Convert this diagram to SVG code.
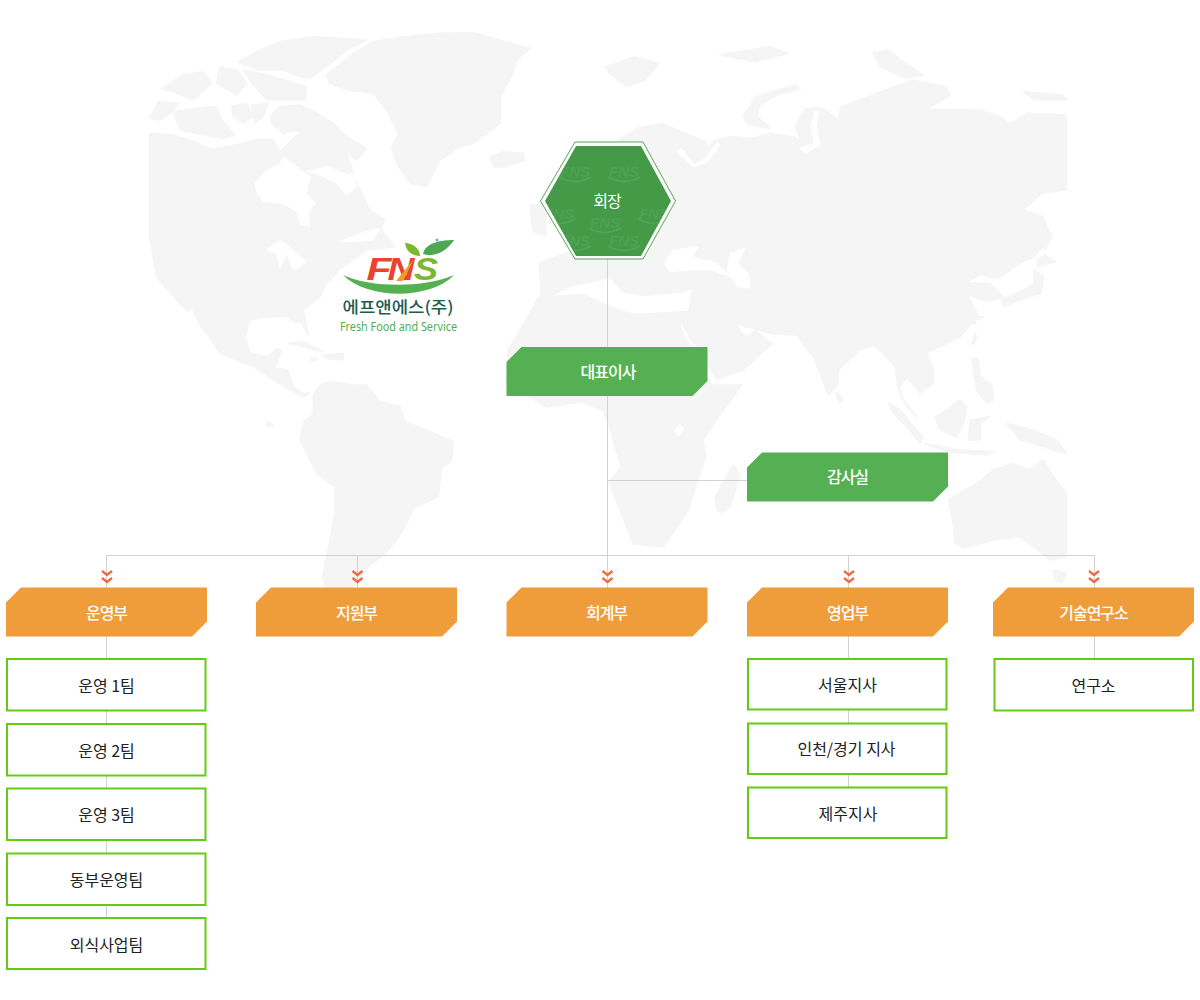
<svg xmlns="http://www.w3.org/2000/svg" width="1200" height="1000" viewBox="0 0 1200 1000">
<style>
text{font-family:"Noto Sans CJK KR","Noto Sans",sans-serif;text-anchor:middle}
.land{fill:#f5f5f5;stroke:#f5f5f5;stroke-width:5;stroke-linejoin:round}
.sea{fill:#fff;stroke:#fff;stroke-width:3;stroke-linejoin:round}
.line{stroke:#d2d2d2;stroke-width:1;fill:none}
.green{fill:#55b054}
.orange{fill:#ef9d3b}
.team{fill:#fff;stroke:#63cb15;stroke-width:2}
.hd{fill:#fff;font-size:16px;font-weight:500;letter-spacing:-1px}
.tx{fill:#222;font-size:16px}
.wm{fill:#4fa153;font-family:"Liberation Sans",sans-serif;font-size:15px;font-weight:700;font-style:italic}
.wa{fill:none;stroke:#53a457;stroke-width:2}
.logo{font-family:"Liberation Sans",sans-serif;font-size:31px;font-weight:700;font-style:italic}
</style>
<defs>
<path id="chev" d="M-5,0.500 L0,4.500 L5,0.500 M-5,7.500 L0,11.500 L5,7.500" fill="none" stroke="#ec6b45" stroke-width="2.400"/>
<path id="tag" d="M15,0 H201 V34 L186,49 H0 V15Z"/>
<clipPath id="mapclip"><rect x="149" y="0" width="918" height="600"/></clipPath>
<clipPath id="hexclip"><polygon points="545,201 576,146 641,146 671,201 641,256 576,256"/></clipPath>
</defs>
<rect width="1200" height="1000" fill="#fff"/>
<g id="map" clip-path="url(#mapclip)">
<g transform="translate(140,20) scale(.33333)">
<path class="land" d="M28,340 L100,345 170,368 215,388 300,372 350,358 400,358 420,395 470,345 510,335 540,378 575,385 600,430 640,475 650,490 690,570 735,600 720,625 765,680 680,690 600,745 560,790 540,830 490,870 505,945 480,900 470,910 440,890 380,890 330,900 315,950 330,1000 385,1010 410,985 425,990 405,1045 445,1050 460,1100 490,1120 510,1120 490,1130 440,1105 380,1065 340,1040 240,1000 200,940 140,870 110,840 50,770 28,650Z"/>
<path class="sea" d="M345,490 L370,460 420,430 430,410 470,440 510,470 500,520 525,550 505,580 510,620 480,610 470,575 430,550 370,545 350,515Z"/>
<path class="sea" d="M500,455 L560,440 640,470 650,500 620,525 590,490 540,465Z"/>
<path class="sea" d="M380,690 L420,660 470,700 500,725 460,750 440,700 420,745 410,700Z"/>
<path class="sea" d="M600,665 L660,640 720,625 700,660 640,665Z"/>
<path class="land" d="M390,290 L420,260 480,255 530,280 580,310 620,350 680,385 650,420 620,400 640,460 580,430 540,420 500,420 470,400 490,350 470,330 430,340 395,310Z"/>
<path class="land" d="M100,275 L170,265 230,260 245,300 285,345 250,355 190,345 120,330Z"/>
<path class="land" d="M30,295 L55,245 120,250 90,280 60,300Z"/>
<path class="land" d="M275,260 L320,250 340,290 310,310 280,290Z"/>
<path class="land" d="M335,255 L385,250 370,290 345,310Z"/>
<path class="land" d="M65,205 L130,165 190,155 215,190 160,240 100,215Z"/>
<path class="land" d="M240,140 L290,150 320,190 290,225 230,190Z"/>
<path class="land" d="M295,125 L350,95 420,65 520,50 680,60 620,90 560,140 510,175 480,170 430,150 350,150Z"/>
<path class="land" d="M310,150 L400,170 500,200 495,240 380,240 340,195Z"/>
<path class="land" d="M560,165 L640,100 700,65 800,50 900,40 1000,38 1080,60 1170,85 1130,120 1115,170 1080,230 1080,310 1000,370 960,380 900,420 860,500 810,490 770,430 755,380 775,340 740,270 700,220 620,210 570,190Z"/>
<path class="land" d="M1050,410 L1090,395 1150,400 1155,420 1100,440 1060,440Z"/>
</g>
<g transform="translate(140,300) scale(.33333)">
<path class="sea" d="M145,35 L155,30 195,125 170,90Z"/>
<path class="land" d="M520,285 L540,255 570,245 640,255 680,255 720,305 780,320 795,365 860,390 940,425 935,480 905,505 895,590 820,625 800,670 770,720 730,765 690,795 640,860 600,880 560,870 548,830 570,720 585,640 585,560 530,520 480,420 490,370 520,340Z"/>
<path class="land" d="M445,130 L490,125 550,155 510,145Z"/>
<path class="land" d="M550,165 L610,160 610,180 560,175Z"/>
<path class="land" d="M510,175 L530,175 530,182 512,182Z"/>
<path class="land" d="M380,365 L395,370 400,380 380,378Z"/>
</g>
<g transform="translate(520,30) scale(.357,.33333)">
<path class="land" d="M270,335 L330,295 400,280 440,300 520,335 528,358 505,385 545,330 590,320 650,325 700,310 770,322 790,335 770,290 800,235 850,235 890,270 900,230 1000,190 1100,150 1190,170 1205,195 1140,238 1290,240 1350,262 1370,282 1420,250 1530,255 1530,480 1460,490 1410,540 1465,560 1480,630 1440,680 1400,700 1340,745 1290,735 1245,760 1315,760 1355,800 1310,815 1255,795 1280,850 1275,880 440,880 440,860 250,830 60,790 55,700 150,660Z"/>
<path class="sea" d="M450,355 L490,405 520,385 552,338 560,345 525,395 485,410 440,365Z"/>
<path class="sea" d="M785,355 L825,340 815,290 825,245 835,245 830,290 840,345 800,368Z"/>
<path class="land" d="M625,260 L660,200 770,165 785,175 720,195 670,225 665,260 700,295 640,285Z"/>
<path class="land" d="M240,110 L320,80 390,100 350,150 300,170 250,130Z"/>
<path class="land" d="M560,75 L700,50 750,70 660,95Z"/>
<path class="land" d="M990,70 L1030,60 1080,100 1130,135 1080,145 1010,110Z"/>
<path class="land" d="M1410,185 L1520,195 1530,210 1440,210Z"/>
<path class="land" d="M1450,690 L1470,675 1500,695 1450,710Z"/>
<path class="land" d="M1440,720 L1465,740 1460,790 1400,810 1355,830 1350,810 1410,780 1440,760Z"/>
<path class="land" d="M1465,570 L1490,620 1470,660 1465,620Z"/>
<path class="land" d="M1275,910 L1280,930 1265,945Z"/>
</g>
<g transform="translate(700,320) scale(.33333)">
<path class="land" d="M850,-10 L825,0 780,50 720,80 680,100 700,150 700,190 660,220 620,170 600,200 605,230 650,290 620,260 595,210 585,140 550,100 520,75 480,90 415,150 415,190 385,225 340,110 290,45 220,42 170,28 125,18 100,-5 125,40 145,50 165,30 215,72 130,150 50,178 25,140 6,90 -27,60 -63,-9 -63,-10Z"/>
</g>
<path class="land" style="stroke-width:1.500" d="M537,300 L520,330 508,350 506,385 530,397 547,407 580,402 603,410 609,425 621,467 609,482 633,544 663,547 688,511 706,456 703,440 720,415 742,385 712,385 700,362 695,352 685,338 676,315 680,285 549,285Z"/>
<g transform="translate(520,30) scale(.357,.33333)">
<path class="sea" d="M100,795 L150,770 220,755 250,745 290,790 350,800 450,790 479,780 470,840 400,845 320,850 250,825 180,790Z"/>
<path class="sea" d="M405,700 L430,660 500,650 480,680 550,700 590,740 540,720 470,720 420,725Z"/>
<path class="sea" d="M590,670 L630,655 610,700 640,730 645,775 610,770 580,720Z"/>
<path class="land" d="M355,745 L385,740 400,770 370,790 350,770Z"/>
</g>
<path class="land" style="stroke-width:1.500" d="M530,205 L545,205 546,235 533,232Z"/>
<path class="sea" style="stroke-width:1" d="M674,431 L680,424 684,429 678,436Z"/>
<g transform="translate(700,320) scale(.33333)">
<path class="land" d="M45,530 L100,435 120,470 90,560 65,578 50,570Z"/>
<path class="land" d="M410,215 L430,240 420,248 410,235Z"/>
<path class="land" d="M565,250 L600,270 650,330 670,350 660,370 620,320 580,280Z"/>
<path class="land" d="M670,370 L780,390 880,395 860,405 740,395Z"/>
<path class="land" d="M705,290 L740,270 780,240 800,260 790,310 770,350 720,330Z"/>
<path class="land" d="M810,300 L870,290 840,310 840,360 805,360Z"/>
<path class="land" d="M815,115 L835,115 840,170 875,195 880,240 860,250 830,210Z"/>
<path class="land" d="M920,310 L1000,330 1070,360 1100,400 1060,390 1000,370 960,360Z"/>
<path class="land" d="M745,540 L830,490 880,450 940,430 990,450 1030,420 1060,470 1100,520 1100,710 1050,720 1000,680 960,650 880,660 790,685 765,670 760,610Z"/>
<path class="land" d="M1060,750 L1100,760 1085,790 1065,780Z"/>
</g>
</g>
<g id="connectors">
<path class="line" d="M607.500,259V588M608,480.500H747M106.500,555.500H1094.500M106.500,555V588M357.500,555V588M848.500,555V588M1094.500,555V588M106.500,636V940M848.500,636V810M1094.500,636V660"/>
<use href="#chev" x="107" y="570.500"/>
<use href="#chev" x="357.500" y="570.500"/>
<use href="#chev" x="607.500" y="570.500"/>
<use href="#chev" x="849" y="570.500"/>
<use href="#chev" x="1094" y="570.500"/>
</g>
<g id="logo">
<path d="M405,243 C412,243 420,248 420,256 C412,256 406,251 405,243Z" fill="#7ab82f"/>
<path d="M454,240 C440,240 425,243 423,254 C434,258 447,251 454,240Z" fill="#4da84f"/>
<circle cx="437" cy="240" r="1.500" fill="#5cb6d8"/>
<path d="M343,275 C370,288 425,288 454,275 C430,300 368,300 343,275Z" fill="#55b04f"/>
<text class="logo" x="379" y="280" textLength="25" lengthAdjust="spacingAndGlyphs" fill="#e8452c">F</text>
<text class="logo" x="401" y="280" textLength="27" lengthAdjust="spacingAndGlyphs" fill="#e8452c">N</text>
<text class="logo" x="426" y="280" textLength="24" lengthAdjust="spacingAndGlyphs" fill="#7ab82f">S</text>
<path d="M396,281 L414,259 L403,281Z" fill="#f29a2e"/>
<text x="398" y="312.500" textLength="111" lengthAdjust="spacingAndGlyphs" style="font-size:16px;font-weight:500;fill:#1f5c4f">에프앤에스(주)</text>
<text x="398.500" y="331" textLength="117" lengthAdjust="spacingAndGlyphs" style="font-family:'Noto Sans',sans-serif;font-size:12px;fill:#4fb04f">Fresh Food and Service</text>
</g>
<g id="chairman">
<polygon points="540.500,201 575,142 643,142 675.500,201 643,259 575,259" fill="#fff" stroke="#55a658" stroke-width="1"/>
<polygon points="545,201 576,146 641,146 671,201 641,256 576,256" fill="#449a46"/>
<g clip-path="url(#hexclip)">
<text class="wm" x="575" y="177">FNS</text><text class="wm" x="624" y="177">FNS</text><text class="wm" x="559" y="219">FNS</text><text class="wm" x="605" y="228">FNS</text><text class="wm" x="654" y="219">FNS</text><text class="wm" x="575" y="246">FNS</text><text class="wm" x="624" y="246">FNS</text>
<path class="wa" d="M559,177Q575,186 591,177M608,177Q624,186 640,177M543,219Q559,228 575,219M589,228Q605,237 621,228M638,219Q654,228 670,219M559,246Q575,255 591,246M608,246Q624,255 640,246"/>
</g>
<text class="hd" x="607" y="207" style="font-weight:400">회장</text>
</g>
<g id="ceo"><use href="#tag" class="green" x="506.500" y="347"/><text class="hd" x="608" y="377.500">대표이사</text></g>
<g id="audit"><use href="#tag" class="green" x="747" y="452.500"/><text class="hd" x="847.500" y="483">감사실</text></g>
<g id="dept1"><use href="#tag" class="orange" x="6" y="587.500"/><text class="hd" x="106.500" y="618.500">운영부</text></g>
<g id="dept2"><use href="#tag" class="orange" x="256" y="587.500"/><text class="hd" x="356.500" y="618.500">지원부</text></g>
<g id="dept3"><use href="#tag" class="orange" x="506.500" y="587.500"/><text class="hd" x="606.500" y="618.500">회계부</text></g>
<g id="dept4"><use href="#tag" class="orange" x="747" y="587.500"/><text class="hd" x="847.500" y="618.500">영업부</text></g>
<g id="dept5"><use href="#tag" class="orange" x="993" y="587.500"/><text class="hd" x="1093.500" y="618.500">기술연구소</text></g>
<g id="t11"><rect class="team" x="7" y="659" width="198.500" height="51.500"/><text class="tx" x="106.500" y="691.500">운영 1팀</text></g>
<g id="t12"><rect class="team" x="7" y="724" width="198.500" height="51.500"/><text class="tx" x="106.500" y="756.500">운영 2팀</text></g>
<g id="t13"><rect class="team" x="7" y="788.500" width="198.500" height="51.500"/><text class="tx" x="106.500" y="821">운영 3팀</text></g>
<g id="t14"><rect class="team" x="7" y="853.500" width="198.500" height="51.500"/><text class="tx" x="106.500" y="885.500">동부운영팀</text></g>
<g id="t15"><rect class="team" x="7" y="918" width="198.500" height="51"/><text class="tx" x="106.500" y="950.500">외식사업팀</text></g>
<g id="t41"><rect class="team" x="748" y="659" width="198.500" height="50.500"/><text class="tx" x="847.500" y="691">서울지사</text></g>
<g id="t42"><rect class="team" x="748" y="723.500" width="198.500" height="50.500"/><text class="tx" x="846.500" y="755">인천/경기 지사</text></g>
<g id="t43"><rect class="team" x="748" y="787.500" width="198.500" height="50.500"/><text class="tx" x="848" y="820">제주지사</text></g>
<g id="t51"><rect class="team" x="994.500" y="659" width="198.500" height="51.500"/><text class="tx" x="1093.500" y="691.500">연구소</text></g>
</svg>
